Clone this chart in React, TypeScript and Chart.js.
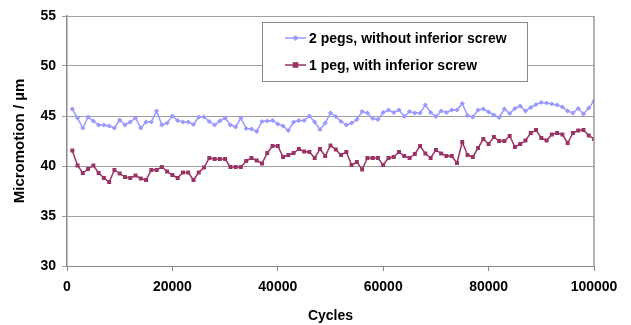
import React, { useEffect, useRef } from 'react';
import { Chart, registerables } from 'chart.js';

Chart.register(...registerables);

const cycles = [
  1000, 2000, 3000, 4000, 5000, 6000, 7000, 8000, 9000, 10000,
  11000, 12000, 13000, 14000, 15000, 16000, 17000, 18000, 19000, 20000,
  21000, 22000, 23000, 24000, 25000, 26000, 27000, 28000, 29000, 30000,
  31000, 32000, 33000, 34000, 35000, 36000, 37000, 38000, 39000, 40000,
  41000, 42000, 43000, 44000, 45000, 46000, 47000, 48000, 49000, 50000,
  51000, 52000, 53000, 54000, 55000, 56000, 57000, 58000, 59000, 60000,
  61000, 62000, 63000, 64000, 65000, 66000, 67000, 68000, 69000, 70000,
  71000, 72000, 73000, 74000, 75000, 76000, 77000, 78000, 79000, 80000,
  81000, 82000, 83000, 84000, 85000, 86000, 87000, 88000, 89000, 90000,
  91000, 92000, 93000, 94000, 95000, 96000, 97000, 98000, 99000, 100000,
];

const twoPegs = [
  45.7, 44.8, 43.8, 44.9, 44.5, 44.1, 44.1, 44.0, 43.8, 44.6,
  44.1, 44.4, 44.8, 43.8, 44.4, 44.4, 45.5, 44.1, 44.3, 45.0,
  44.55, 44.4, 44.4, 44.15, 44.9, 44.9, 44.45, 44.1, 44.5, 44.8,
  44.1, 43.9, 44.8, 43.75, 43.7, 43.45, 44.45, 44.5, 44.55, 44.2,
  44.0, 43.55, 44.4, 44.55, 44.55, 45.0, 44.4, 43.65, 44.3, 45.3,
  44.95, 44.45, 44.1, 44.3, 44.65, 45.45, 45.3, 44.75, 44.65, 45.35,
  45.6, 45.35, 45.6, 44.95, 45.45, 45.3, 45.3, 46.1, 45.35, 44.95,
  45.5, 45.35, 45.6, 45.6, 46.25, 45.05, 44.9, 45.6, 45.7, 45.4,
  45.1, 44.85, 45.7, 45.25, 45.75, 46.0, 45.5, 45.85, 46.15, 46.35,
  46.3, 46.2, 46.1, 45.9, 45.5, 45.3, 45.75, 45.2, 45.8, 46.5,
];

const onePeg = [
  41.55, 40.05, 39.3, 39.7, 40.05, 39.3, 38.8, 38.4, 39.6, 39.25,
  38.9, 38.8, 39.05, 38.75, 38.6, 39.6, 39.6, 39.9, 39.45, 39.1,
  38.8, 39.35, 39.35, 38.6, 39.35, 39.85, 40.8, 40.7, 40.7, 40.7,
  39.9, 39.9, 39.9, 40.5, 40.8, 40.55, 40.25, 41.3, 42.0, 42.0,
  40.9, 41.1, 41.3, 41.7, 41.45, 41.4, 40.8, 41.7, 41.0, 42.05,
  41.65, 41.1, 41.4, 40.1, 40.4, 39.65, 40.8, 40.8, 40.8, 40.1,
  40.8, 40.9, 41.4, 41.0, 40.8, 41.2, 42.0, 41.25, 40.8, 41.6,
  41.25, 41.0, 41.0, 40.3, 42.4, 41.1, 40.9, 41.8, 42.7, 42.2,
  42.9, 42.5, 42.5, 43.0, 41.9, 42.2, 42.55, 43.3, 43.6, 42.8,
  42.55, 43.15, 43.3, 43.15, 42.3, 43.3, 43.55, 43.6, 43.05, 42.7,
];

const seriesNames = ['2 pegs, without inferior screw', '1 peg, with inferior screw'];
const xTickValues = [0, 20000, 40000, 60000, 80000, 100000];
const yTickValues = [30, 35, 40, 45, 50, 55];
const xTitle = 'Cycles';
const yTitle = 'Micromotion / µm';

const FONT = "'Liberation Sans', Arial, Helvetica, sans-serif";

const rightBorderPlugin = {
  id: 'rightBorder',
  afterDatasetsDraw(chart: any) {
    const { ctx, chartArea } = chart;
    ctx.save();
    ctx.strokeStyle = '#9a9a9a';
    ctx.lineWidth = 1.5;
    ctx.beginPath();
    ctx.moveTo(chartArea.right, chartArea.top);
    ctx.lineTo(chartArea.right, chartArea.bottom);
    ctx.stroke();
    ctx.restore();
  },
};

const boxLegendPlugin = {
  id: 'boxLegend',
  afterDraw(chart: any) {
    const { ctx } = chart;
    const x = 262, y = 22, w = 265, h = 59;
    ctx.save();
    ctx.fillStyle = '#ffffff';
    ctx.fillRect(x, y, w, h);
    ctx.strokeStyle = '#8a8a8a';
    ctx.lineWidth = 1;
    ctx.strokeRect(x + 0.5, y + 0.5, w, h);
    chart.data.datasets.forEach((ds: any, i: number) => {
      const cy = y + 16 + i * 27;
      ctx.strokeStyle = ds.borderColor;
      ctx.lineWidth = 1.5;
      ctx.beginPath();
      ctx.moveTo(x + 23, cy);
      ctx.lineTo(x + 44, cy);
      ctx.stroke();
      ctx.fillStyle = ds.pointBackgroundColor;
      const cx = x + 33.5;
      if (ds.pointStyle === 'rect') {
        ctx.fillRect(cx - 2.8, cy - 2.8, 5.6, 5.6);
      } else {
        ctx.beginPath();
        ctx.moveTo(cx, cy - 3);
        ctx.lineTo(cx + 3, cy);
        ctx.lineTo(cx, cy + 3);
        ctx.lineTo(cx - 3, cy);
        ctx.closePath();
        ctx.fill();
      }
      ctx.fillStyle = '#000000';
      ctx.font = `bold 14px ${FONT}`;
      ctx.textBaseline = 'middle';
      ctx.textAlign = 'left';
      ctx.fillText(ds.label, x + 47, cy + 1);
    });
    ctx.restore();
  },
};

export default function App() {
  const canvasRef = useRef<HTMLCanvasElement | null>(null);

  useEffect(() => {
    const canvas = canvasRef.current;
    if (!canvas) return;
    const chart = new Chart(canvas, {
      type: 'line',
      data: {
        datasets: [
          {
            label: seriesNames[0],
            data: cycles.map((c, i) => ({ x: c, y: twoPegs[i] })),
            borderColor: '#9999ff',
            backgroundColor: '#9999ff',
            pointBackgroundColor: '#9999ff',
            pointBorderColor: '#9999ff',
            pointStyle: 'rectRot',
            pointRadius: 2.6,
            pointBorderWidth: 0,
            borderWidth: 1.5,
            tension: 0,
          } as any,
          {
            label: seriesNames[1],
            data: cycles.map((c, i) => ({ x: c, y: onePeg[i] })),
            borderColor: '#993366',
            backgroundColor: '#993366',
            pointBackgroundColor: '#993366',
            pointBorderColor: '#993366',
            pointStyle: 'rect',
            pointRadius: 2.8,
            pointBorderWidth: 0,
            borderWidth: 1.5,
            tension: 0,
          } as any,
        ],
      },
      options: {
        animation: false,
        responsive: false,
        maintainAspectRatio: false,
        devicePixelRatio: 1,
        layout: { padding: { top: 16, right: 37, bottom: 0, left: 0 } },
        plugins: {
          legend: { display: false },
          tooltip: { enabled: false },
        },
        scales: {
          x: {
            type: 'linear',
            min: 0,
            max: 100000,
            afterBuildTicks: (scale: any) => {
              scale.ticks = xTickValues.map((v) => ({ value: v }));
            },
            afterFit: (scale: any) => {
              scale.height = 59;
            },
            ticks: {
              color: '#000000',
              font: { family: FONT, size: 14, weight: 'bold' },
              padding: 8,
              maxRotation: 0,
              autoSkip: false,
              callback: (v: any) => String(v),
            },
            grid: {
              drawOnChartArea: false,
              drawTicks: true,
              tickLength: 5,
              color: '#8a8a8a',
            },
            border: { display: true, color: '#8a8a8a', width: 1 },
            title: {
              display: true,
              text: xTitle,
              color: '#000000',
              font: { family: FONT, size: 14, weight: 'bold' },
              padding: { top: 0, bottom: 0 },
            },
          },
          y: {
            type: 'linear',
            min: 30,
            max: 55,
            afterBuildTicks: (scale: any) => {
              scale.ticks = yTickValues.map((v) => ({ value: v }));
            },
            afterFit: (scale: any) => {
              scale.width = 67;
            },
            ticks: {
              color: '#000000',
              font: { family: FONT, size: 14, weight: 'bold' },
              padding: 6,
              autoSkip: false,
            },
            grid: {
              color: '#a0a0a0',
              lineWidth: 1,
              drawTicks: true,
              tickLength: 5,
            },
            border: { display: true, color: '#8a8a8a', width: 1.5 },
            title: {
              display: true,
              text: yTitle,
              color: '#000000',
              font: { family: FONT, size: 15, weight: 'bold' },
              padding: { top: 11, bottom: 0 },
            },
          },
        },
      } as any,
      plugins: [rightBorderPlugin, boxLegendPlugin],
    });
    return () => chart.destroy();
  }, []);

  return (
    <div style={{ position: 'absolute', left: 0, top: 0, width: 631, height: 325, background: '#ffffff' }}>
      <canvas ref={canvasRef} width={631} height={325} style={{ width: 631, height: 325, display: 'block' }} />
    </div>
  );
}
